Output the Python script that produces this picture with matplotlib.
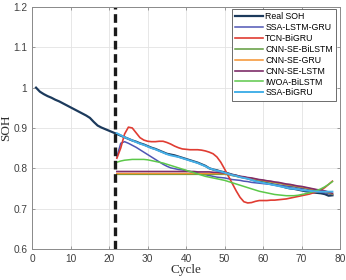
import matplotlib
matplotlib.use("Agg")
import matplotlib.pyplot as plt
import numpy as np
from matplotlib.ticker import FormatStrFormatter

# Data
real_cycles = np.arange(1, 79)
real_soh = [1.0, 0.99, 0.984, 0.979, 0.975, 0.97, 0.966, 0.961, 0.956, 0.951,
            0.946, 0.941, 0.936, 0.931, 0.925, 0.915, 0.906, 0.901, 0.897, 0.893,
            0.889, 0.885, 0.881, 0.877, 0.873, 0.869, 0.866, 0.862, 0.859, 0.855,
            0.851, 0.848, 0.844, 0.84, 0.836, 0.834, 0.832, 0.829, 0.826, 0.823,
            0.82, 0.817, 0.814, 0.81, 0.806, 0.8, 0.797, 0.795, 0.792, 0.79,
            0.787, 0.784, 0.782, 0.779, 0.777, 0.775, 0.772, 0.769, 0.767, 0.765,
            0.763, 0.761, 0.759, 0.757, 0.755, 0.752, 0.75, 0.749, 0.747, 0.745,
            0.743, 0.742, 0.74, 0.739, 0.738, 0.736, 0.732, 0.733]

pred_cycles = np.arange(22, 79)
ssa_lstm_gru = [0.828, 0.862, 0.866, 0.862, 0.857, 0.852, 0.846, 0.84, 0.834, 0.828,
                0.822, 0.816, 0.81, 0.805, 0.801, 0.799, 0.797, 0.796, 0.794, 0.792,
                0.79, 0.788, 0.786, 0.784, 0.782, 0.78, 0.778, 0.777, 0.776, 0.774,
                0.772, 0.771, 0.77, 0.768, 0.767, 0.765, 0.764, 0.763, 0.762, 0.761,
                0.76, 0.759, 0.758, 0.757, 0.756, 0.755, 0.754, 0.752, 0.75, 0.749,
                0.747, 0.745, 0.743, 0.741, 0.739, 0.737, 0.735]
tcn_bigru = [0.825, 0.85, 0.885, 0.902, 0.9, 0.888, 0.876, 0.87, 0.867, 0.866,
             0.866, 0.867, 0.867, 0.864, 0.86, 0.855, 0.851, 0.848, 0.847, 0.846,
             0.846, 0.846, 0.845, 0.843, 0.84, 0.836, 0.828, 0.815, 0.798, 0.78,
             0.762, 0.744, 0.728, 0.717, 0.714, 0.715, 0.718, 0.72, 0.72, 0.72,
             0.721, 0.721, 0.722, 0.723, 0.724, 0.726, 0.728, 0.73, 0.732, 0.734,
             0.736, 0.739, 0.742, 0.746, 0.752, 0.76, 0.768]
cnn_se_bilstm = [0.785, 0.785, 0.785, 0.785, 0.785, 0.785, 0.785, 0.785, 0.785, 0.785,
                 0.785, 0.785, 0.785, 0.785, 0.785, 0.785, 0.785, 0.785, 0.785, 0.785,
                 0.785, 0.785, 0.785, 0.785, 0.785, 0.785, 0.785, 0.785, 0.785, 0.784,
                 0.782, 0.78, 0.778, 0.777, 0.775, 0.774, 0.772, 0.77, 0.769, 0.767,
                 0.766, 0.764, 0.763, 0.761, 0.759, 0.758, 0.756, 0.754, 0.753, 0.751,
                 0.749, 0.747, 0.745, 0.744, 0.742, 0.739, 0.736]
cnn_se_gru = [0.787, 0.787, 0.787, 0.787, 0.787, 0.787, 0.787, 0.787, 0.787, 0.787,
              0.787, 0.787, 0.787, 0.787, 0.787, 0.787, 0.787, 0.787, 0.787, 0.787,
              0.787, 0.787, 0.787, 0.787, 0.787, 0.787, 0.787, 0.787, 0.786, 0.785,
              0.783, 0.781, 0.779, 0.778, 0.776, 0.775, 0.773, 0.771, 0.77, 0.768,
              0.767, 0.765, 0.764, 0.762, 0.76, 0.759, 0.757, 0.755, 0.754, 0.752,
              0.75, 0.748, 0.746, 0.745, 0.743, 0.74, 0.737]
cnn_se_lstm = [0.792, 0.792, 0.792, 0.792, 0.792, 0.792, 0.792, 0.792, 0.792, 0.792,
               0.792, 0.792, 0.792, 0.792, 0.792, 0.792, 0.792, 0.792, 0.792, 0.792,
               0.792, 0.791, 0.791, 0.791, 0.791, 0.79, 0.79, 0.789, 0.788, 0.786,
               0.784, 0.782, 0.78, 0.779, 0.777, 0.776, 0.774, 0.772, 0.771, 0.769,
               0.768, 0.766, 0.765, 0.763, 0.761, 0.76, 0.758, 0.756, 0.755, 0.753,
               0.751, 0.749, 0.747, 0.746, 0.744, 0.741, 0.738]
iwoa_bilstm = [0.815, 0.818, 0.82, 0.821, 0.822, 0.822, 0.822, 0.822, 0.821, 0.819,
               0.817, 0.815, 0.813, 0.81, 0.807, 0.804, 0.801, 0.798, 0.795, 0.792,
               0.789, 0.786, 0.783, 0.78, 0.778, 0.776, 0.774, 0.772, 0.77, 0.767,
               0.764, 0.761, 0.758, 0.755, 0.752, 0.749, 0.746, 0.743, 0.741, 0.739,
               0.737, 0.735, 0.734, 0.733, 0.732, 0.732, 0.732, 0.733, 0.735, 0.737,
               0.739, 0.742, 0.745, 0.749, 0.754, 0.76, 0.767]
ssa_bigru = [0.887, 0.882, 0.877, 0.873, 0.869, 0.865, 0.861, 0.858, 0.854, 0.85,
             0.847, 0.843, 0.839, 0.835, 0.832, 0.83, 0.828, 0.825, 0.822, 0.819,
             0.816, 0.813, 0.809, 0.805, 0.8, 0.797, 0.794, 0.792, 0.789, 0.786,
             0.783, 0.781, 0.778, 0.776, 0.774, 0.771, 0.768, 0.766, 0.764, 0.762,
             0.76, 0.758, 0.756, 0.754, 0.752, 0.75, 0.749, 0.748, 0.746, 0.745,
             0.744, 0.743, 0.742, 0.742, 0.742, 0.742, 0.742]

split_cycle = 21.6

fig = plt.figure(figsize=(3.46, 2.80), dpi=100)
ax = fig.add_axes([0.093, 0.111, 0.89, 0.864])

ax.plot(real_cycles, real_soh, color="#1c3a5c", lw=1.6, label="Real SOH")
ax.plot(pred_cycles, ssa_lstm_gru, color="#4f56b5", lw=1.1, label="SSA-LSTM-GRU")
ax.plot(pred_cycles, tcn_bigru, color="#e03c32", lw=1.2, label="TCN-BiGRU")
ax.plot(pred_cycles, cnn_se_bilstm, color="#5f9b3c", lw=1.1, label="CNN-SE-BiLSTM")
ax.plot(pred_cycles, cnn_se_gru, color="#f5922f", lw=1.1, label="CNN-SE-GRU")
ax.plot(pred_cycles, cnn_se_lstm, color="#7e2d6a", lw=1.2, label="CNN-SE-LSTM")
ax.plot(pred_cycles, iwoa_bilstm, color="#5cc84a", lw=1.1, label="IWOA-BiLSTM")
ax.plot(pred_cycles, ssa_bigru, color="#45b0e8", lw=1.4, label="SSA-BiGRU")

ax.axvline(split_cycle, color="#1a1a1a", lw=2.4, linestyle=(0, (2.6, 1.4)))

ax.set_xlim(0, 80)
ax.set_ylim(0.6, 1.2)
ax.set_xticks(range(0, 81, 10))
ax.set_yticks(np.arange(0.6, 1.21, 0.1))
ax.yaxis.set_major_formatter(FormatStrFormatter("%g"))
ax.grid(True, color="#e3e3e3", lw=0.6)
ax.set_axisbelow(True)
for s in ax.spines.values():
    s.set_color("#8a8a8a")
    s.set_linewidth(0.7)
ax.tick_params(direction="in", length=2.5, width=0.6, color="#8a8a8a",
               labelsize=7.3, labelcolor="#404040", top=True, right=True,
               labeltop=False, labelright=False)
for lbl in ax.get_xticklabels() + ax.get_yticklabels():
    lbl.set_fontfamily("Liberation Sans")

ax.set_xlabel("Cycle", family="Liberation Serif", fontsize=9.5, color="#303030", labelpad=0)
ax.set_ylabel("SOH", family="Liberation Serif", fontsize=9.5, color="#303030", labelpad=1)

leg = ax.legend(loc="upper right", bbox_to_anchor=(0.987, 0.992),
                prop={"family": "Liberation Sans", "size": 6.3},
                fancybox=False, framealpha=1, edgecolor="#555555",
                handlelength=3.2, handletextpad=0.3, labelspacing=0.22,
                borderpad=0.35, borderaxespad=0.0)
leg.get_frame().set_linewidth(0.6)

plt.savefig("out.png", dpi=100)
